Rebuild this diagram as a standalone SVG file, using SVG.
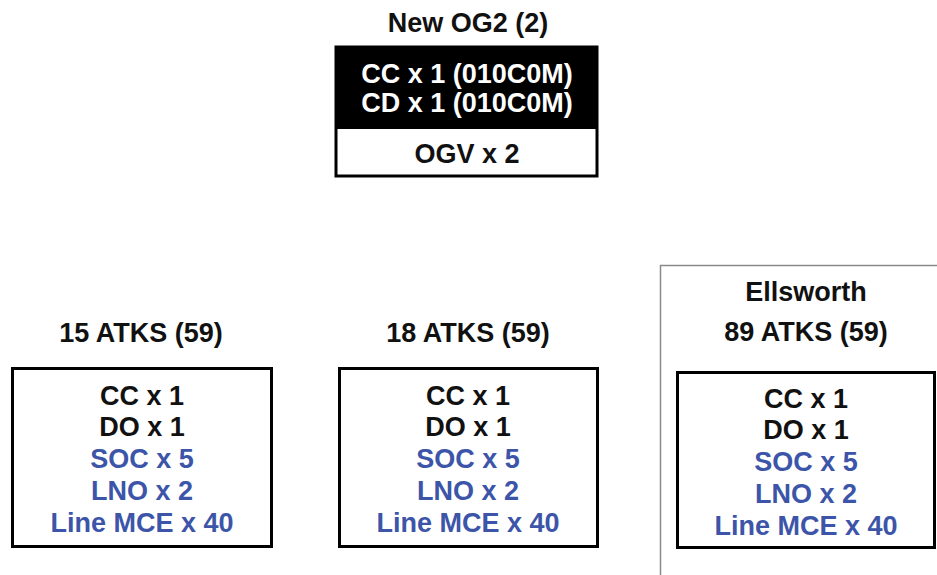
<svg xmlns="http://www.w3.org/2000/svg" width="937" height="575" viewBox="0 0 937 575">
<style>
text{font-family:"Liberation Sans",Arial,sans-serif;font-weight:bold;font-size:27px;text-anchor:middle;fill:#111}
.w{fill:#fff}
.b{fill:#3d55a8}
.box{fill:#fff;stroke:#000;stroke-width:3}
</style>
<rect width="937" height="575" fill="#fff"/>
<g id="new-og2">
<text x="468" y="32">New OG2 (2)</text>
<rect x="336" y="47" width="261" height="129" fill="#fff" stroke="#000" stroke-width="3"/>
<rect x="336" y="47" width="261" height="82" fill="#000"/>
<text class="w" x="467" y="83">CC x 1 (010C0M)</text>
<text class="w" x="467" y="112">CD x 1 (010C0M)</text>
<text x="467" y="163">OGV x 2</text>
</g>
<g id="atks-15">
<text x="141" y="342">15 ATKS (59)</text>
<rect class="box" x="12.5" y="368.5" width="259" height="178"/>
<text x="142" y="405">CC x 1</text>
<text x="142" y="436">DO x 1</text>
<text class="b" x="142" y="468">SOC x 5</text>
<text class="b" x="142" y="500">LNO x 2</text>
<text class="b" x="142" y="532">Line MCE x 40</text>
</g>
<g id="atks-18">
<text x="468" y="342">18 ATKS (59)</text>
<rect class="box" x="339.5" y="368.5" width="258" height="178"/>
<text x="468" y="405">CC x 1</text>
<text x="468" y="436">DO x 1</text>
<text class="b" x="468" y="468">SOC x 5</text>
<text class="b" x="468" y="500">LNO x 2</text>
<text class="b" x="468" y="532">Line MCE x 40</text>
</g>
<g id="ellsworth">
<rect x="660.5" y="265.5" width="290" height="320" fill="none" stroke="#8a8a8a" stroke-width="1.5"/>
<text x="806" y="301">Ellsworth</text>
<text x="806" y="341">89 ATKS (59)</text>
<rect class="box" x="677.5" y="372.5" width="257" height="175"/>
<text x="806" y="408">CC x 1</text>
<text x="806" y="439">DO x 1</text>
<text class="b" x="806" y="471">SOC x 5</text>
<text class="b" x="806" y="503">LNO x 2</text>
<text class="b" x="806" y="535">Line MCE x 40</text>
</g>
<g id="connectors"></g>
</svg>
